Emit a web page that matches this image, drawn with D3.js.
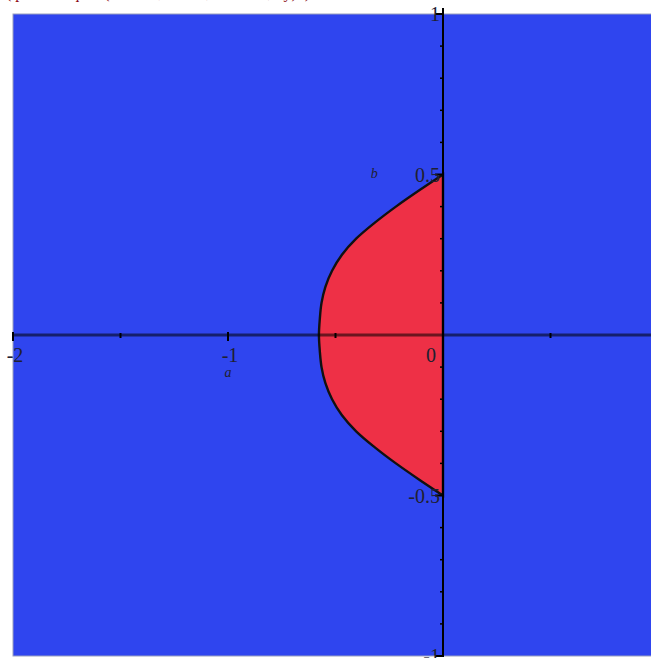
<!DOCTYPE html>
<html>
<head>
<meta charset="utf-8">
<script src="https://cdn.jsdelivr.net/npm/d3@7"></script>
<style>
  body { margin: 0; background: #fff; }
  svg { display: block; }
  text { font-family: "Liberation Serif", "DejaVu Serif", serif; }
</style>
</head>
<body>
<div id="chart"></div>
<script>
// boundary of the red region (a, b), top to bottom
const boundaryB = [0.5, 0.45, 0.4, 0.35, 0.3, 0.25, 0.2, 0.15, 0.1, 0.05, 0, -0.05, -0.1, -0.15, -0.2, -0.25, -0.3, -0.35, -0.4, -0.45, -0.5];
const boundaryA = [0, -0.112, -0.219, -0.317, -0.404, -0.47, -0.516, -0.547, -0.565, -0.573, -0.577, -0.573, -0.565, -0.547, -0.516, -0.47, -0.404, -0.317, -0.219, -0.112, 0];

const xDomain = [-2, 1];
const yDomain = [-1, 1];
const xLabels = [{ v: -2, t: "-2" }, { v: -1, t: "-1" }, { v: 0, t: "0" }];
const yLabels = [{ v: 1, t: "1" }, { v: 0.5, t: "0.5" }, { v: -0.5, t: "-0.5" }, { v: -1, t: "-1" }];
const xMinor = [-1.5, -0.5, 0.5];
const yMinor = [-0.9, -0.8, -0.7, -0.6, -0.4, -0.3, -0.2, -0.1, 0.1, 0.2, 0.3, 0.4, 0.6, 0.7, 0.8, 0.9];

const width = 651, height = 658;

const svg = d3.select("#chart").append("svg")
    .attr("width", width)
    .attr("height", height);

const x = d3.scaleLinear().domain(xDomain).range([13, 658]);
const y = d3.scaleLinear().domain(yDomain).range([656, 14]);

// cut-off caption at the very top (only its descenders show)
svg.append("text")
    .attr("x", 6)
    .attr("y", -2)
    .attr("fill", "#8b0a14")
    .attr("font-size", 16)
    .text("(  plots[inequal]( {b < ..., a < 0}, a = -2..1, by)..)");

// background region
svg.append("rect")
    .attr("x", x(-2))
    .attr("y", y(1))
    .attr("width", x(1) - x(-2))
    .attr("height", y(-1) - y(1))
    .attr("fill", "#2f45ef")
    .attr("stroke", "#9aa0c0")
    .attr("stroke-width", 1);

const pts = boundaryA.map((a, i) => [a, boundaryB[i]]);

const line = d3.line()
    .x(d => x(d[0]))
    .y(d => y(d[1]))
    .curve(d3.curveCatmullRom);

svg.append("path")
    .attr("d", line(pts) + "Z")
    .attr("fill", "#ee3046")
    .attr("stroke", "#111")
    .attr("stroke-width", 2.4);

// horizontal axis
svg.append("line")
    .attr("x1", x(-2)).attr("x2", width)
    .attr("y1", y(0)).attr("y2", y(0))
    .attr("stroke", "#000").attr("stroke-opacity", 0.55).attr("stroke-width", 3);

// vertical axis
svg.append("line")
    .attr("x1", x(0)).attr("x2", x(0))
    .attr("y1", y(1) - 6).attr("y2", y(-1))
    .attr("stroke", "#000").attr("stroke-width", 2);

// ticks
svg.selectAll(".xmaj").data(xLabels.map(d => d.v).filter(v => v !== 0)).enter().append("line")
    .attr("x1", d => x(d)).attr("x2", d => x(d))
    .attr("y1", y(0) - 3).attr("y2", y(0) + 6)
    .attr("stroke", "#000").attr("stroke-width", 2);

svg.selectAll(".xmin").data(xMinor).enter().append("line")
    .attr("x1", d => x(d)).attr("x2", d => x(d))
    .attr("y1", y(0) - 2).attr("y2", y(0) + 3)
    .attr("stroke", "#000").attr("stroke-width", 2);

svg.selectAll(".ymin").data(yMinor).enter().append("line")
    .attr("x1", x(0) - 3).attr("x2", x(0))
    .attr("y1", d => y(d)).attr("y2", d => y(d))
    .attr("stroke", "#000").attr("stroke-width", 1.5);

svg.selectAll(".ymaj").data(yLabels.map(d => d.v)).enter().append("line")
    .attr("x1", x(0) - 8).attr("x2", x(0) + 1)
    .attr("y1", d => y(d)).attr("y2", d => y(d))
    .attr("stroke", "#000").attr("stroke-width", 2);

// tick labels
svg.selectAll(".xl").data(xLabels).enter().append("text")
    .attr("x", d => d.v === 0 ? x(d.v) - 12 : x(d.v) + 2)
    .attr("y", y(0) + 27)
    .attr("text-anchor", "middle")
    .attr("font-size", 20)
    .attr("fill", "#202030")
    .text(d => d.t);

svg.selectAll(".yl").data(yLabels).enter().append("text")
    .attr("x", x(0) - 3)
    .attr("y", d => y(d.v) + 7)
    .attr("text-anchor", "end")
    .attr("font-size", 20)
    .attr("fill", "#202030")
    .text(d => d.t);

// axis names
svg.append("text")
    .attr("x", x(-1))
    .attr("y", y(0) + 42)
    .attr("text-anchor", "middle")
    .attr("font-size", 14)
    .attr("font-style", "italic")
    .attr("fill", "#202030")
    .text("a");

svg.append("text")
    .attr("x", x(-0.32))
    .attr("y", y(0.5) + 3)
    .attr("text-anchor", "middle")
    .attr("font-size", 14)
    .attr("font-style", "italic")
    .attr("fill", "#202030")
    .text("b");
</script>
</body>
</html>
